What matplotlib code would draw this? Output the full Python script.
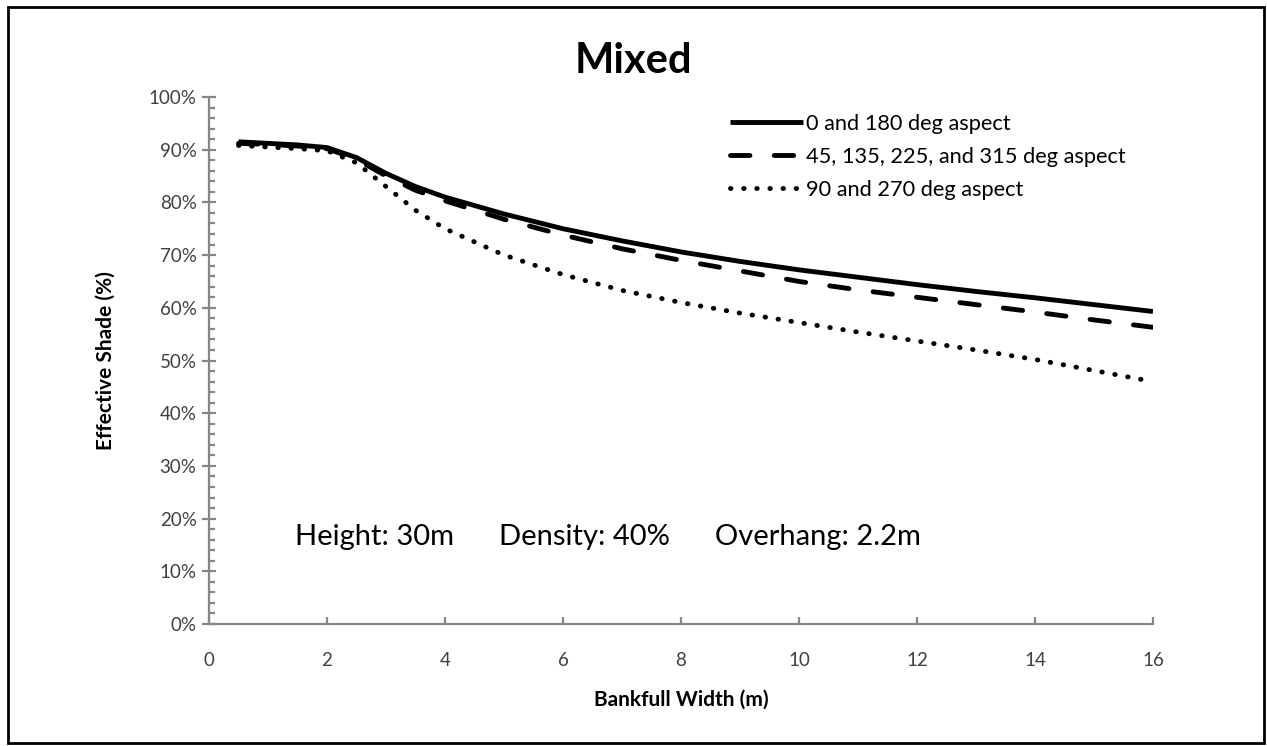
import matplotlib.pyplot as plt
from matplotlib.patches import Rectangle
from matplotlib.ticker import MultipleLocator, PercentFormatter

plt.rcParams['font.family'] = ['Lato', 'DejaVu Sans']

width = [0.5, 1, 1.5, 2, 2.5, 3, 3.5, 4, 5, 6, 7, 8, 9, 10, 11, 12, 13, 14, 15, 16]
shade_0_180 = [91.5, 91.2, 90.9, 90.4, 88.5, 85.5, 83.0, 81.0, 77.8, 75.0, 72.7, 70.6,
               68.8, 67.2, 65.8, 64.4, 63.1, 61.9, 60.6, 59.3]
shade_45 = [91.2, 91.0, 90.7, 90.2, 88.2, 85.0, 82.3, 80.3, 76.8, 73.8, 71.2, 69.0,
            67.0, 65.0, 63.4, 62.0, 60.6, 59.2, 57.7, 56.3]
shade_90_270 = [90.8, 90.5, 90.2, 89.8, 87.5, 83.0, 78.5, 75.0, 70.0, 66.3, 63.3, 61.0,
                59.0, 57.2, 55.4, 53.7, 52.0, 50.2, 48.1, 46.0]
labels = ["0 and 180 deg aspect", "45, 135, 225, and 315 deg aspect", "90 and 270 deg aspect"]

fig = plt.figure(figsize=(12.67, 7.46), dpi=100)
ax = fig.add_axes([0.165, 0.1635, 0.745, 0.7065])

ax.plot(width, shade_0_180, color='black', lw=3.5, solid_capstyle='butt', label=labels[0])
ax.plot(width, shade_45, color='black', lw=3.5, linestyle=(0, (4, 5)),
        dash_capstyle='round', label=labels[1])
ax.plot(width, shade_90_270, color='black', lw=3.5, linestyle=(0, (0.1, 2.6)),
        dash_capstyle='round', label=labels[2])

ax.set_xlim(0, 16)
ax.set_ylim(0, 100)
ax.xaxis.set_major_locator(MultipleLocator(2))
ax.yaxis.set_major_locator(MultipleLocator(10))
ax.yaxis.set_minor_locator(MultipleLocator(2))
ax.yaxis.set_major_formatter(PercentFormatter(decimals=0))

for side in ['top', 'right']:
    ax.spines[side].set_visible(False)
for side in ['left', 'bottom']:
    ax.spines[side].set_color('#868686')
    ax.spines[side].set_linewidth(1.6)

ax.tick_params(axis='y', which='major', direction='inout', length=10, width=1.6,
               color='#868686', labelsize=13.5, labelcolor='#404040', pad=4)
ax.tick_params(axis='y', which='minor', direction='in', length=4, width=1.6, color='#868686')
ax.tick_params(axis='x', which='major', direction='in', length=5, width=1.6,
               color='#868686', labelsize=13.5, labelcolor='#404040', pad=20)

fig.text(0.5, 0.918, "Mixed", fontsize=30, fontweight='bold', ha='center', va='center')
ax.set_xlabel("Bankfull Width (m)", fontsize=15, fontweight='bold', labelpad=15)
ax.set_ylabel("Effective Shade (%)", fontsize=15, fontweight='bold', labelpad=24)

ax.text(1.45, 16.5, "Height: 30m      Density: 40%      Overhang: 2.2m", fontsize=21,
        va='center', ha='left')

ax.legend(loc='upper left', bbox_to_anchor=(0.543, 0.985), frameon=False, fontsize=15.7,
          handlelength=3.35, handletextpad=0.1, labelspacing=0.6, borderaxespad=0)

fig.patches.append(Rectangle((0.006, 0.004), 0.992, 0.987, transform=fig.transFigure,
                             fill=False, edgecolor='black', lw=2))

fig.savefig("out.png", dpi=100)
